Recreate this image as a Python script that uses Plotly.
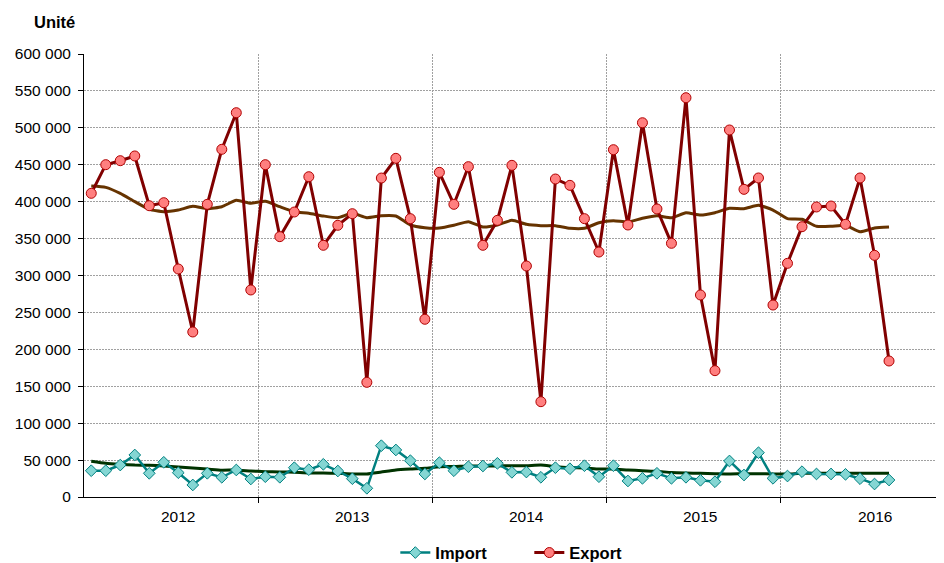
import plotly.graph_objects as go

years = ["2012", "2013", "2014", "2015", "2016"]

export_vals = [411300, 450100, 455500, 461900, 394500, 398600, 308800, 223500, 396400, 470900, 520500, 280400,
               450100, 352600, 386000, 433800, 340900, 368000, 383700, 155300, 432000, 458700, 377000, 240700,
               439700, 396400, 447400, 340900, 374700, 449200, 312900, 129100, 430700, 422100, 377000, 331800,
               470400, 368400, 506900, 390100, 343600, 540800, 273600, 171100, 497100, 416700, 432100, 260000,
               316500, 366100, 392800, 394100, 369300, 432100, 327300, 184200]

import_vals = [35600, 35600, 43300, 56900, 32100, 47000, 32900, 16300, 32100, 26700, 36600, 24400,
               27500, 26700, 39700, 37000, 44300, 35200, 24800, 11800, 69500, 63700, 49200, 31200,
               46500, 35600, 41000, 42000, 45600, 33400, 33800, 26700, 39700, 38300, 42400, 27500,
               42400, 21700, 25300, 32100, 25300, 26700, 22600, 20700, 48800, 29800, 60000, 25300,
               28400, 34300, 31200, 31200, 30700, 24800, 17600, 23000]

export_ma = [421200, 419400, 411300, 400000, 389600, 386400, 388700, 393700, 390500, 393200, 401800, 397800,
             400500, 393200, 386400, 384200, 380600, 378300, 384200, 378300, 381000, 380600, 368400, 364700,
             364300, 368000, 372900, 365700, 368400, 374700, 369300, 367500, 367500, 363900, 363900, 371500,
             374200, 372500, 377500, 380800, 378100, 385100, 381900, 385100, 391000, 390500, 395100, 388700,
             377000, 376100, 366600, 366600, 368000, 359300, 364300, 365700]

import_ma = [48400, 45600, 44300, 43300, 43000, 42000, 40600, 39300, 37900, 36200, 36600, 35200,
             34300, 34000, 33400, 32500, 32500, 32100, 31200, 31200, 33900, 36600, 37900, 38800,
             41000, 41300, 42000, 42000, 42000, 42400, 42400, 43300, 41000, 39700, 39300, 37900,
             37900, 36600, 35600, 34800, 33200, 32500, 32100, 31600, 31200, 31600, 31600, 31200,
             31200, 32100, 32100, 32100, 32100, 32100, 32100, 32100]

y_ticks = [0, 50000, 100000, 150000, 200000, 250000, 300000, 350000, 400000, 450000, 500000, 550000, 600000]
y_ticklabels = ["0", "50 000", "100 000", "150 000", "200 000", "250 000", "300 000", "350 000",
                "400 000", "450 000", "500 000", "550 000", "600 000"]

months = list(range(len(export_vals)))
year_bounds = [12 * k - 0.5 for k in range(1, len(years))]
year_centers = [12 * k + 6 for k in range(len(years))]

FONT = "Liberation Sans, Arial, sans-serif"
GRID = "#a0a0a0"

fig = go.Figure()

fig.add_trace(go.Scatter(x=months, y=import_ma, mode="lines", showlegend=False,
                         line=dict(color="#003300", width=3, shape="spline", smoothing=0.5),
                         hoverinfo="skip"))
fig.add_trace(go.Scatter(x=months, y=export_ma, mode="lines", showlegend=False,
                         line=dict(color="#663300", width=3, shape="spline", smoothing=0.5),
                         hoverinfo="skip"))
fig.add_trace(go.Scatter(x=months, y=import_vals, mode="lines+markers", name="Import",
                         line=dict(color="#008080", width=2.5),
                         marker=dict(symbol="diamond", size=9, color="#84D6D3",
                                     line=dict(color="#008080", width=1))))
fig.add_trace(go.Scatter(x=months, y=export_vals, mode="lines+markers", name="Export",
                         line=dict(color="#800000", width=3),
                         marker=dict(symbol="circle", size=10, color="#FF7F7F",
                                     line=dict(color="#B00000", width=1))))

for i, yr in enumerate(years):
    fig.add_annotation(x=year_centers[i], y=0, xref="x", yref="paper", text=yr,
                       showarrow=False, yanchor="top", yshift=-9,
                       font=dict(family=FONT, size=15.5, color="#000000"))

fig.add_annotation(x=-0.0605, y=1.072, xref="paper", yref="paper", text="<b>Unité</b>",
                   showarrow=False, xanchor="left", yanchor="middle",
                   font=dict(family=FONT, size=16.5, color="#000000"))

fig.update_xaxes(range=[-0.5, 58.79], tickmode="array", tickvals=year_bounds,
                 ticktext=["" for _ in year_bounds], ticks="outside", ticklen=5,
                 tickcolor="#000000", showline=True, linecolor="#000000", linewidth=1,
                 showgrid=True, gridcolor=GRID, gridwidth=1, griddash="2px,1px",
                 zeroline=False, fixedrange=True)
fig.update_yaxes(range=[0, 600000], tickmode="array", tickvals=y_ticks, ticktext=y_ticklabels,
                 ticks="outside", ticklen=5, tickcolor="#000000", showline=True,
                 linecolor="#000000", linewidth=1, showgrid=True, gridcolor=GRID,
                 gridwidth=1, griddash="2px,1px", zeroline=False, ticklabelstandoff=4,
                 tickfont=dict(family=FONT, size=15.5, color="#000000"), fixedrange=True)

# The page body keeps an 8px default margin, so the figure is sized to fit the window.
fig.update_layout(
    width=936, height=555,
    margin=dict(l=76, r=0, t=46, b=66, autoexpand=False),
    paper_bgcolor="#ffffff", plot_bgcolor="#ffffff",
    font=dict(family=FONT, size=15.5, color="#000000"),
    showlegend=True,
    legend=dict(orientation="h", x=0.362, xanchor="left", y=-0.126, yanchor="middle",
                font=dict(family=FONT, size=16.5, color="#000000", weight="bold"),
                itemwidth=30, entrywidth=89, entrywidthmode="pixels",
                tracegroupgap=0, bgcolor="rgba(0,0,0,0)"),
)

fig.write_html("out.html")
